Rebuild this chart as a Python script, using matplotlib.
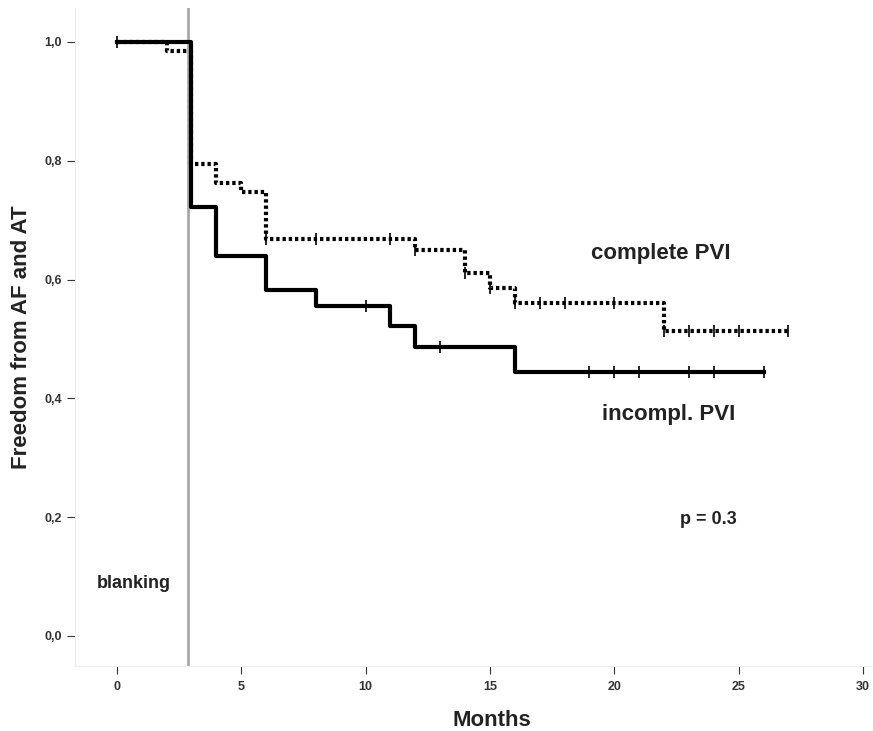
import numpy as np
import matplotlib
matplotlib.use("Agg")
import matplotlib.pyplot as plt

plt.rcParams['font.family'] = ['Liberation Sans', 'DejaVu Sans']

# Kaplan-Meier steps (time in months, survival after the step)
incompl_t = [0, 3, 4, 6, 8, 11, 12, 16, 26]
incompl_s = [1.0, 0.722, 0.639, 0.583, 0.556, 0.521, 0.486, 0.444, 0.444]
incompl_cens = [0, 10, 13, 19, 20, 21, 23, 24, 26]

compl_t = [0, 2, 3, 4, 5, 6, 12, 14, 15, 16, 22, 27]
compl_s = [1.0, 0.984, 0.795, 0.763, 0.748, 0.668, 0.650, 0.611, 0.586, 0.560, 0.513, 0.513]
compl_cens = [3, 6, 8, 11, 12, 14, 15, 16, 17, 18, 20, 22, 23, 24, 25, 27]

blanking_month = 2.87
xticks = [0, 5, 10, 15, 20, 25, 30]
yticks = [0.0, 0.2, 0.4, 0.6, 0.8, 1.0]
ytick_labels = ['0,0', '0,2', '0,4', '0,6', '0,8', '1,0']

W, H = 873, 731


def cens_y(times, surv, cens):
    # survival value at each censoring time (value after any step there)
    idx = np.searchsorted(times, cens, side='right') - 1
    return np.array(surv)[idx]


fig = plt.figure(figsize=(W / 100, H / 100), dpi=100)
ax = fig.add_axes([75 / W, 1 - 666 / H, 0.917, (666 - 8) / H])

ax.axvline(blanking_month, color='#a8a8a8', lw=2, zorder=1)

ax.step(incompl_t, incompl_s, where='post', color='black', lw=3, zorder=3)
ax.plot(incompl_cens, cens_y(incompl_t, incompl_s, incompl_cens), ls='none',
        marker='|', ms=8, mew=1.2, color='black', zorder=4)

ax.step(compl_t, compl_s, where='post', color='black', lw=3,
        dashes=(0.8, 0.7), dash_capstyle='butt', zorder=3)
ax.plot(compl_cens, cens_y(compl_t, compl_s, compl_cens), ls='none',
        marker='|', ms=8, mew=1.2, color='black', zorder=4)

ax.set_xlim(-1.68, 30.5)
ax.set_ylim(-0.0505, 1.057)
ax.set_xticks(xticks)
ax.set_yticks(yticks)
ax.set_yticklabels(ytick_labels)
ax.tick_params(axis='both', direction='out', length=6, width=0.8,
               labelsize=9, colors='#333333')
ax.tick_params(axis='x', pad=5)
for lab in ax.get_xticklabels() + ax.get_yticklabels():
    lab.set_fontweight('bold')

for side in ['top', 'right']:
    ax.spines[side].set_visible(False)
for side in ['left', 'bottom']:
    ax.spines[side].set_color('#eeeeee')

txt = dict(fontweight='bold', color='#222222', va='center')
fig.text(492 / W, 1 - 720 / H, 'Months', fontsize=16, ha='center', **txt)
fig.text(22 / W, 1 - 337 / H, 'Freedom from AF and AT', fontsize=16,
         ha='center', rotation=90, **txt)
fig.text(591 / W, 1 - 253 / H, 'complete PVI', fontsize=16, **txt)
fig.text(602 / W, 1 - 415 / H, 'incompl. PVI', fontsize=16, **txt)
fig.text(680 / W, 1 - 520 / H, 'p = 0.3', fontsize=13, **txt)
fig.text(97 / W, 1 - 583 / H, 'blanking', fontsize=13, **txt)

fig.savefig('out.png', dpi=100)
